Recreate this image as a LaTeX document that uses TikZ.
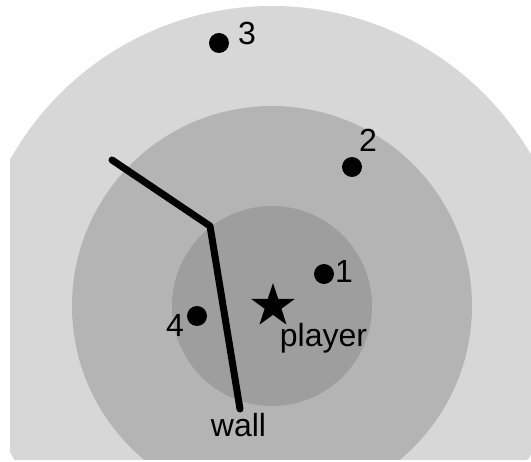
\documentclass[tikz,border=0pt]{standalone}
\usepackage{fontspec}
\setmainfont{Liberation Sans}
\usetikzlibrary{shapes.geometric}
\definecolor{ringOuter}{RGB}{215,215,215}
\definecolor{ringMid}{RGB}{180,180,180}
\definecolor{ringInner}{RGB}{158,158,158}

\begin{document}
\begin{tikzpicture}[
    x=1pt, y=-1pt,
    target/.style={circle, fill=black, inner sep=0pt, minimum size=20pt},
    num/.style={anchor=base, inner sep=0pt, font=\fontsize{32}{38}\selectfont},
    hero/.style={star, star points=5, star point ratio=2.6, fill=black,
      inner sep=0pt, minimum size=46pt},
    wallline/.style={line width=7pt, line cap=round, line join=round},
  ]
  \useasboundingbox (0,0) rectangle (531,462);
  \begin{scope}
    \clip[rounded corners=6pt] (10,0) rectangle (531,460);
    \fill[ringOuter] (272,306) circle[radius=300pt];
    \fill[ringMid] (272,306) circle[radius=200pt];
    \fill[ringInner] (272,306) circle[radius=100pt];
  \end{scope}

  \coordinate (wa) at (112,160);
  \coordinate (wb) at (210,226);
  \coordinate (wc) at (240,409);
  \draw[wallline] (wa) -- (wb) -- (wc);

  \node[hero] (me) at (273,306) {};
  \node[target] (p1) at (324,274) {};
  \node[target] (p2) at (352,167) {};
  \node[target] (p3) at (219,43) {};
  \node[target] (p4) at (197,316) {};

  \node[num] (n1) at (344,283) {1};
  \node[num] (n2) at (368,152) {2};
  \node[num] (n3) at (247,45) {3};
  \node[num] (n4) at (175,337) {4};
  \node[num] (pl) at (323.5,347) {player};
  \node[num] (wl) at (238.5,437) {wall};
\end{tikzpicture}
\end{document}
